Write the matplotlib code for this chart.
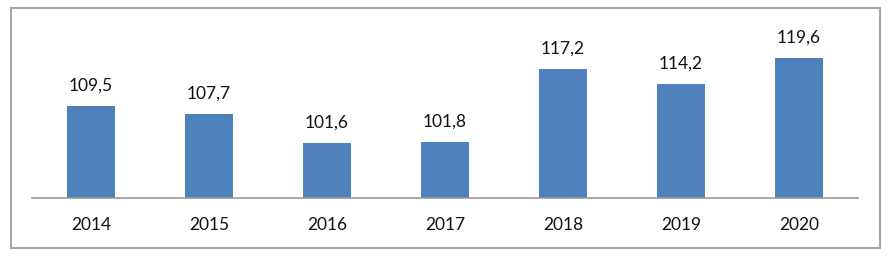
import matplotlib.pyplot as plt
from matplotlib.patches import Rectangle

years = ['2014', '2015', '2016', '2017', '2018', '2019', '2020']
values = [109.5, 107.7, 101.6, 101.8, 117.2, 114.2, 119.6]
labels = ['109,5', '107,7', '101,6', '101,8', '117,2', '114,2', '119,6']

W, H = 892, 257
fig = plt.figure(figsize=(W / 100, H / 100), dpi=100)
fig.patch.set_facecolor('white')

# outer frame of the chart box
fig.patches.append(Rectangle((11 / W, 1 - 248 / H), 869 / W, 240 / H,
                             transform=fig.transFigure, fill=False,
                             edgecolor='#a6a6a6', linewidth=1.5))

ax = fig.add_axes([32 / W, 1 - 198 / H, 826 / W, 189 / H])
x = range(len(years))
ax.bar(x, values, width=0.4, color='#4f81bd', zorder=2)
ax.set_xlim(-0.5, len(years) - 0.5)
ax.set_ylim(90, 130)

for xi, v, lab in zip(x, values, labels):
    ax.annotate(lab, (xi, v), xytext=(0, 9), textcoords='offset points',
                ha='center', va='bottom', fontsize=12.5, color='#111111',
                family='Lato', annotation_clip=False)

ax.set_xticks(list(x))
ax.set_xticklabels(years, fontsize=12.5, color='#111111', family='Lato')
ax.tick_params(axis='x', length=0, pad=14)
ax.set_yticks([])
for s in ['left', 'right', 'top']:
    ax.spines[s].set_visible(False)
ax.spines['bottom'].set_color('#999999')
ax.spines['bottom'].set_linewidth(1.2)
ax.patch.set_alpha(0)

fig.savefig('out.png', dpi=100)
